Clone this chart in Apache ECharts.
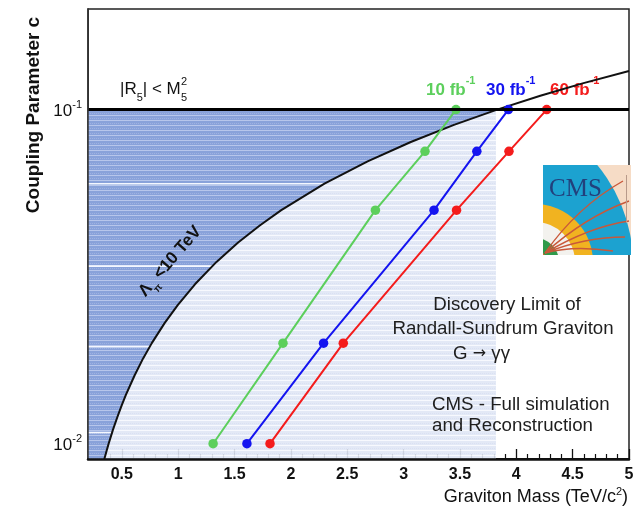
<!DOCTYPE html>
<html>
<head>
<meta charset="utf-8">
<script src="https://cdn.jsdelivr.net/npm/echarts@6/dist/echarts.min.js"></script>
<style>
  html, body { margin: 0; padding: 0; background: #ffffff; }
  #chart { width: 637px; height: 506px; }
</style>
</head>
<body>
<div id="chart"></div>
<script>
// Discovery reach of the Randall-Sundrum graviton, G -> gamma gamma

// coupling levels at which the reach was evaluated
const couplingPoints = [0.01, 0.02, 0.05, 0.075, 0.1];
// graviton mass reach (TeV/c^2) for each integrated luminosity
const mass10fb = [1.31, 1.93, 2.75, 3.19, 3.465];
const mass30fb = [1.61, 2.29, 3.27, 3.65, 3.93];
const mass60fb = [1.815, 2.465, 3.47, 3.935, 4.27];

// Lambda_pi = 10 TeV boundary
const boundaryMass = [0.345, 0.364, 0.383, 0.421, 0.46, 0.498, 0.536, 0.613, 0.689, 0.766,
  0.881, 0.996, 1.149, 1.34, 1.532, 1.724, 1.915, 2.298, 2.681, 3.064, 3.447, 3.83,
  4.213, 4.596, 5.0];
const boundaryCoupling = [0.009, 0.0095, 0.01, 0.011, 0.012, 0.013, 0.014, 0.016, 0.018, 0.02,
  0.023, 0.026, 0.03, 0.035, 0.04, 0.045, 0.05, 0.06, 0.07, 0.08, 0.09, 0.1,
  0.11, 0.12, 0.1305];

// |R5| < M5^2 limit and end of the simulated band
const couplingLimit = 0.1;
const shadedMassEnd = 3.82;
// pale seams across the dark part of the band
const seamCouplings = [0.0108, 0.0195, 0.034, 0.06];

// axis ranges and ticks
const massRange = [0.2, 5];
const couplingRange = [0.009, 0.2];
const xTickValues = [0.5, 1, 1.5, 2, 2.5, 3, 3.5, 4, 4.5, 5];
const xMinorTickValues = [0.3, 0.4, 0.6, 0.7, 0.8, 0.9, 1.1, 1.2, 1.3, 1.4, 1.6, 1.7, 1.8, 1.9,
  2.1, 2.2, 2.3, 2.4, 2.6, 2.7, 2.8, 2.9, 3.1, 3.2, 3.3, 3.4, 3.6, 3.7, 3.8, 3.9,
  4.1, 4.2, 4.3, 4.4, 4.6, 4.7, 4.8, 4.9];
const yLabelValues = [0.01, 0.1];
const yMinorTickValues = [0.02, 0.03, 0.04, 0.05, 0.06, 0.07, 0.08, 0.09];

const FONT = '"Liberation Sans", Arial, Helvetica, sans-serif';

// striped fills for the shaded band
function stripePattern(base, stripe, dot) {
  const c = document.createElement('canvas');
  c.width = 6; c.height = 5;
  const g = c.getContext('2d');
  g.fillStyle = base; g.fillRect(0, 0, 6, 5);
  g.fillStyle = stripe; g.fillRect(0, 0, 6, 1);
  g.fillStyle = dot;
  for (let i = 0; i < 6; i += 2) g.fillRect(i, 3, 1, 1);
  return c;
}
const darkFill = stripePattern('#839dd8', '#b2c2ea', '#9aafe0');
const lightFill = stripePattern('#e0e7f6', '#f7f9fe', '#d6def2');

// CMS logo drawn on a small canvas
function cmsLogo() {
  const w = 88, h = 90;
  const c = document.createElement('canvas');
  c.width = w; c.height = h;
  const g = c.getContext('2d');
  g.fillStyle = '#f6dcc6'; g.fillRect(0, 0, w, h);
  // outer calorimeter disc
  g.beginPath(); g.arc(-65, 99, 155, 0, Math.PI * 2); g.fillStyle = '#1ca2d0'; g.fill();
  const cx = -8, cy = 97;
  const rings = [[58, '#f1b320'], [40, '#f3f2ee'], [24, '#2f9a4a']];
  rings.forEach(([r, col]) => {
    g.beginPath(); g.arc(cx, cy, r, 0, Math.PI * 2); g.fillStyle = col; g.fill();
  });
  g.beginPath(); g.arc(cx, cy, 12, 0, Math.PI * 2); g.fillStyle = '#d9632c'; g.fill();
  g.strokeStyle = '#c9583a'; g.lineWidth = 1.4;
  const rays = [[34, 42, 80, 16], [42, 52, 86, 36], [46, 62, 86, 56], [42, 72, 82, 72], [30, 80, 70, 86]];
  rays.forEach(([qx, qy, ex, ey]) => {
    g.beginPath(); g.moveTo(2, 88); g.quadraticCurveTo(qx, qy, ex, ey); g.stroke();
  });
  g.fillStyle = '#b89a8a';
  g.fillRect(83, 10, 1, 48);
  g.fillStyle = '#22407c';
  g.font = '25px "Liberation Serif", "DejaVu Serif", serif';
  g.fillText('CMS', 6, 31);
  return c;
}

const chart = echarts.init(document.getElementById('chart'), null, { renderer: 'canvas' });

const pairs = (xs, ys) => xs.map((x, i) => [x, ys[i]]);

// mass on the boundary at a given coupling (log-linear between neighbouring points)
function boundaryAt(c) {
  for (let i = 1; i < boundaryCoupling.length; i++) {
    if (c <= boundaryCoupling[i]) {
      const a = Math.log(boundaryCoupling[i - 1]), b = Math.log(boundaryCoupling[i]);
      const t = (Math.log(c) - a) / (b - a);
      return boundaryMass[i - 1] + t * (boundaryMass[i] - boundaryMass[i - 1]);
    }
  }
  return boundaryMass[boundaryMass.length - 1];
}

function reachSeries(name, masses, color) {
  return {
    name: name, type: 'line', z: 4,
    xAxisIndex: 0, yAxisIndex: 0,
    data: pairs(masses, couplingPoints),
    symbol: 'circle', symbolSize: 9.5,
    lineStyle: { color: color, width: 2 },
    itemStyle: { color: color },
    emphasis: { disabled: true }
  };
}

function label(text, x, y, size, align, weight) {
  return {
    type: 'text', z: 20, x: x, y: y,
    style: { text: text, font: (weight || '') + ' ' + size + 'px ' + FONT, fill: '#1e1e1e',
      align: align, verticalAlign: 'middle', textAlign: align, textVerticalAlign: 'middle' }
  };
}

function lumiLabel(value, x, color, z) {
  return {
    type: 'text', z: z, x: x, y: 87,
    style: {
      text: '{m|' + value + ' fb}{s|-1}', align: 'left', verticalAlign: 'middle', textAlign: 'left', textVerticalAlign: 'middle',
      rich: {
        m: { font: 'bold 17px ' + FONT, fill: color, lineHeight: 24, verticalAlign: 'bottom' },
        s: { font: 'bold 11px ' + FONT, fill: color, lineHeight: 24, verticalAlign: 'top' }
      }
    }
  };
}

const option = {
  animation: false,
  backgroundColor: '#ffffff',
  grid: {
    left: 88, right: 8, top: 9, bottom: 47,
    show: true, borderColor: '#222', borderWidth: 1.5,
    outerBoundsMode: 'none'
  },
  xAxis: [
    {
      type: 'value', position: 'bottom', min: massRange[0], max: massRange[1], z: 0,
      splitLine: { show: false },
      axisLine: { show: true, lineStyle: { color: '#111', width: 2 } },
      axisTick: { show: true, inside: true, length: 10, customValues: xTickValues, lineStyle: { color: '#111', width: 1.3 } },
      axisLabel: { customValues: xTickValues, margin: 8, fontSize: 16, fontWeight: 'bold', color: '#111', fontFamily: FONT }
    },
    {
      type: 'value', position: 'bottom', min: massRange[0], max: massRange[1], z: 0,
      splitLine: { show: false },
      axisLine: { show: false },
      axisTick: { show: true, inside: true, length: 5, customValues: xMinorTickValues, lineStyle: { color: '#111', width: 1.2 } },
      axisLabel: { show: false }
    },
    {
      type: 'value', position: 'bottom', min: massRange[0], max: massRange[1], z: 10,
      splitLine: { show: false },
      axisLine: { show: true, lineStyle: { color: '#111', width: 2.5 } },
      axisTick: { show: false }, axisLabel: { show: false }
    }
  ],
  yAxis: [
    {
      type: 'log', logBase: 10, position: 'left', min: couplingRange[0], max: couplingRange[1], z: 0,
      splitLine: { show: false },
      axisLine: { show: true, lineStyle: { color: '#333', width: 1 } },
      axisTick: { show: true, inside: true, length: 10, customValues: yLabelValues, lineStyle: { color: '#222', width: 1.3 } },
      axisLabel: {
        customValues: yLabelValues, margin: 6,
        formatter: v => '{b|10}{s|' + Math.round(Math.log10(v)) + '}',
        rich: {
          b: { fontSize: 17, color: '#111', fontFamily: FONT, lineHeight: 20, verticalAlign: 'bottom' },
          s: { fontSize: 11, color: '#111', fontFamily: FONT, lineHeight: 20, verticalAlign: 'top' }
        }
      }
    },
    {
      type: 'log', logBase: 10, position: 'left', min: couplingRange[0], max: couplingRange[1], z: 0,
      splitLine: { show: false },
      axisLine: { show: false },
      axisTick: { show: true, inside: true, length: 7, customValues: yMinorTickValues, lineStyle: { color: '#222', width: 1.3 } },
      axisLabel: { show: false }
    },
    {
      type: 'log', logBase: 10, position: 'left', min: couplingRange[0], max: couplingRange[1], z: 10,
      splitLine: { show: false },
      axisLine: { show: true, lineStyle: { color: '#333', width: 1.5 } },
      axisTick: { show: false }, axisLabel: { show: false }
    }
  ],
  series: [
    {
      // shaded band: light region out to the end of the simulation, dark region beyond the boundary
      type: 'custom', z: 1, xAxisIndex: 0, yAxisIndex: 0,
      coordinateSystem: 'cartesian2d',
      data: [[massRange[0], couplingRange[0]]],
      silent: true,
      renderItem: function (params, api) {
        const x0 = massRange[0], lo = couplingRange[0];
        const rect = [[x0, lo], [shadedMassEnd, lo], [shadedMassEnd, couplingLimit], [x0, couplingLimit]]
          .map(p => api.coord(p));
        const dark = [[x0, lo]];
        boundaryMass.forEach((m, i) => {
          if (boundaryCoupling[i] <= couplingLimit) dark.push([m, boundaryCoupling[i]]);
        });
        dark.push([x0, couplingLimit]);
        const seams = seamCouplings.map(c => {
          const a = api.coord([x0, c]), b = api.coord([boundaryAt(c), c]);
          return { type: 'line', shape: { x1: a[0], y1: a[1], x2: b[0], y2: b[1] },
            style: { stroke: '#f4f7ff', lineWidth: 1.6 } };
        });
        return {
          type: 'group',
          children: [
            { type: 'polygon', shape: { points: rect }, style: { fill: { image: lightFill, repeat: 'repeat' }, opacity: 0.9 } },
            { type: 'polygon', shape: { points: dark.map(p => api.coord(p)) }, style: { fill: { image: darkFill, repeat: 'repeat' }, opacity: 0.93 } }
          ].concat(seams)
        };
      }
    },
    {
      name: 'Lambda_pi < 10 TeV', type: 'line', z: 3,
      xAxisIndex: 0, yAxisIndex: 0,
      data: pairs(boundaryMass, boundaryCoupling),
      showSymbol: false, symbol: 'none',
      lineStyle: { color: '#111', width: 2 },
      emphasis: { disabled: true },
      markLine: {
        silent: true, symbol: 'none', animation: false,
        label: { show: false },
        lineStyle: { color: '#000', width: 3, type: 'solid' },
        data: [{ yAxis: couplingLimit }]
      }
    },
    reachSeries('10 fb-1', mass10fb, '#5ccf5c'),
    reachSeries('30 fb-1', mass30fb, '#1414f0'),
    reachSeries('60 fb-1', mass60fb, '#f41c1c')
  ],
  graphic: [
    {
      type: 'text', z: 20, x: 34, y: 115, rotation: Math.PI / 2,
      style: { text: 'Coupling Parameter c', font: 'bold 19px ' + FONT, fill: '#111',
        align: 'center', verticalAlign: 'middle', textAlign: 'center', textVerticalAlign: 'middle' }
    },
    {
      type: 'text', z: 20, x: 628, y: 496,
      style: {
        text: '{m|Graviton Mass (TeV/c}{s|2}{m|)}',
        align: 'right', verticalAlign: 'middle', textAlign: 'right', textVerticalAlign: 'middle',
        rich: {
          m: { font: '18px ' + FONT, fill: '#111', lineHeight: 20, verticalAlign: 'bottom' },
          s: { font: '11px ' + FONT, fill: '#111', lineHeight: 20, verticalAlign: 'top' }
        }
      }
    },
    {
      type: 'text', z: 20, x: 120, y: 92,
      style: {
        text: '{m||R}{b|5}{m|| < M}',
        align: 'left', verticalAlign: 'middle', textAlign: 'left', textVerticalAlign: 'middle',
        rich: {
          m: { font: '17px ' + FONT, fill: '#111', lineHeight: 22, verticalAlign: 'top' },
          b: { font: '11px ' + FONT, fill: '#111', lineHeight: 22, verticalAlign: 'bottom' }
        }
      }
    },
    { type: 'text', z: 20, x: 181, y: 98, style: { text: '5', font: '11px ' + FONT, fill: '#111', align: 'left', verticalAlign: 'middle', textAlign: 'left', textVerticalAlign: 'middle' } },
    { type: 'text', z: 20, x: 181, y: 82, style: { text: '2', font: '11px ' + FONT, fill: '#111', align: 'left', verticalAlign: 'middle', textAlign: 'left', textVerticalAlign: 'middle' } },
    {
      type: 'text', z: 20, x: 172, y: 263, rotation: 0.86,
      style: {
        text: '{m|Λ}{b|π}{m|<10 TeV}',
        align: 'center', verticalAlign: 'middle', textAlign: 'center', textVerticalAlign: 'middle',
        rich: {
          m: { font: 'bold 17px ' + FONT, fill: '#111', lineHeight: 22, verticalAlign: 'top' },
          b: { font: 'bold 10px ' + FONT, fill: '#111', lineHeight: 22, verticalAlign: 'bottom', padding: [0, 4, 0, 0] }
        }
      }
    },
    lumiLabel('10', 426, '#5ccf5c', 20),
    lumiLabel('30', 486, '#1414f0', 20),
    lumiLabel('60', 550, '#f41c1c', 2),
    label('Discovery Limit of', 507, 305, 18.7, 'center'),
    label('Randall-Sundrum Graviton', 503, 329, 18.7, 'center'),
    {
      type: 'text', z: 20, x: 453, y: 354,
      style: {
        text: '{m|G }{a|→}{m| γγ}',
        align: 'left', verticalAlign: 'middle', textAlign: 'left', textVerticalAlign: 'middle',
        rich: {
          m: { font: '18.7px ' + FONT, fill: '#1e1e1e', lineHeight: 22, verticalAlign: 'middle' },
          a: { font: '16px "DejaVu Sans", sans-serif', fill: '#1e1e1e', lineHeight: 22, verticalAlign: 'middle' }
        }
      }
    },
    label('CMS - Full simulation', 432, 405, 18.7, 'left'),
    label('and Reconstruction', 432, 426, 18.7, 'left'),
    { type: 'image', z: 20, x: 543, y: 165, style: { image: cmsLogo(), width: 88, height: 90 } }
  ]
};

chart.setOption(option);
</script>
</body>
</html>
